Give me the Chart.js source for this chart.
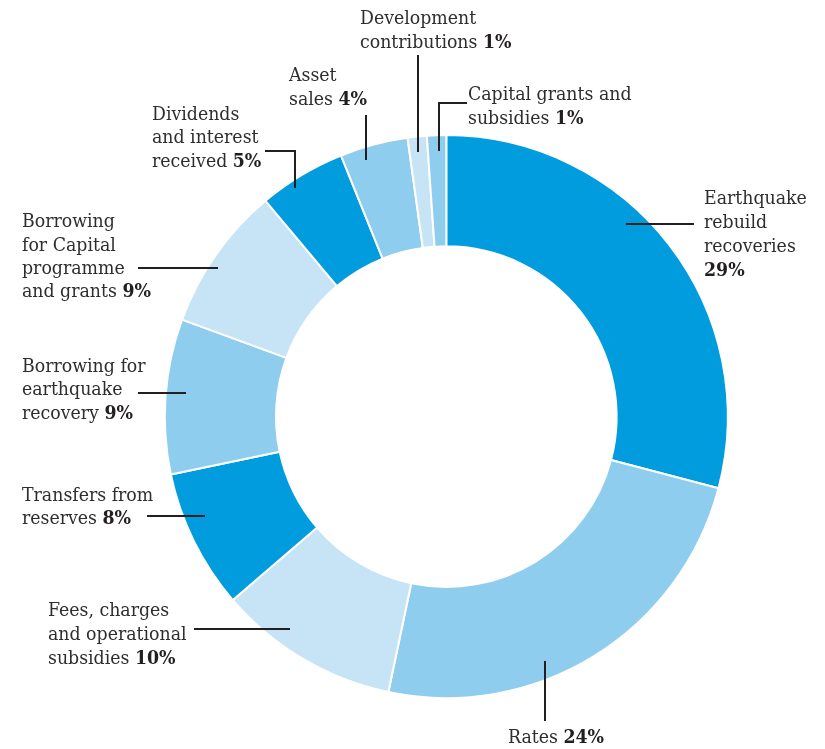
<!DOCTYPE html>
<html><head><meta charset="utf-8">
<script src="https://cdn.jsdelivr.net/npm/chart.js@4/dist/chart.umd.min.js"></script>
<style>html,body{margin:0;padding:0;background:#fff}#wrap{width:825px;height:749px;position:relative}</style>
</head><body><div id="wrap"><canvas id="c" width="825" height="749"></canvas></div>
<script>
// ---- data ----
const categories = [
  'Earthquake rebuild recoveries',
  'Rates',
  'Fees, charges and operational subsidies',
  'Transfers from reserves',
  'Borrowing for earthquake recovery',
  'Borrowing for Capital programme and grants',
  'Dividends and interest received',
  'Asset sales',
  'Development contributions',
  'Capital grants and subsidies'
];
const values = [29.1, 24.2, 10.4, 8.0, 8.9, 8.3, 5.0, 3.9, 1.1, 1.1];
const pctLabels = ['29%', '24%', '10%', '8%', '9%', '9%', '5%', '4%', '1%', '1%'];
const labelLines = [
  ['Earthquake', 'rebuild', 'recoveries', ''],
  ['Rates'],
  ['Fees, charges', 'and operational', 'subsidies'],
  ['Transfers from', 'reserves'],
  ['Borrowing for', 'earthquake', 'recovery'],
  ['Borrowing', 'for Capital', 'programme', 'and grants'],
  ['Dividends', 'and interest', 'received'],
  ['Asset', 'sales'],
  ['Development', 'contributions'],
  ['Capital grants and', 'subsidies']
];

// ---- styles / layout ----
const DARK = '#009CDE', MID = '#8FCDEF', LIGHT = '#C7E4F6';
const colors = [DARK, MID, LIGHT, DARK, MID, LIGHT, DARK, MID, LIGHT, MID];
const labelLayout = [
  {x: 704, y: 204.3, lh: 23.9, leader: [[626,224],[694,224]]},
  {x: 508, y: 742.7, lh: 24,   leader: [[545,661],[545,721]]},
  {x: 48,  y: 616,   lh: 24,   leader: [[194,629],[290,629]]},
  {x: 22,  y: 500.7, lh: 23.6, leader: [[147,516],[205,516]]},
  {x: 22,  y: 371.7, lh: 23.6, leader: [[138,393],[186,393]]},
  {x: 22,  y: 227.3, lh: 23.2, leader: [[138,268],[218,268]]},
  {x: 152, y: 119.7, lh: 23.5, leader: [[265,151],[295,151],[295,188]]},
  {x: 289, y: 81,    lh: 24,   leader: [[366,115],[366,160]]},
  {x: 360, y: 24,    lh: 24.3, leader: [[418,55],[418,152]]},
  {x: 468, y: 100,   lh: 24,   leader: [[467,103],[439,103],[439,151]]}
];
const FAMILY = "'DejaVu Serif Condensed', 'DejaVu Serif', serif";
const FONT_SIZE = 19.3;

const labelPlugin = {
  id: 'labels',
  afterDatasetsDraw(chart) {
    const ctx = chart.ctx;
    ctx.save();
    ctx.strokeStyle = '#231F20';
    ctx.lineWidth = 2;
    labelLayout.forEach(l => {
      ctx.beginPath();
      l.leader.forEach((p, i) => i ? ctx.lineTo(p[0], p[1]) : ctx.moveTo(p[0], p[1]));
      ctx.stroke();
    });
    ctx.textBaseline = 'alphabetic';
    ctx.textAlign = 'left';
    labelLines.forEach((lines, i) => {
      const l = labelLayout[i];
      lines.forEach((txt, j) => {
        const y = l.y + j * l.lh;
        const last = j === lines.length - 1;
        ctx.font = `normal ${FONT_SIZE}px ${FAMILY}`;
        ctx.fillStyle = '#2E2E2E';
        ctx.fillText(txt, l.x, y);
        if (last) {
          const w = txt ? ctx.measureText(txt + ' ').width : 0;
          ctx.font = `bold ${FONT_SIZE}px ${FAMILY}`;
          ctx.fillStyle = '#231F20';
          ctx.fillText(pctLabels[i], l.x + w, y);
        }
      });
    });
    ctx.restore();
  }
};

new Chart(document.getElementById('c'), {
  type: 'doughnut',
  data: {
    labels: categories,
    datasets: [{
      data: values,
      backgroundColor: colors,
      borderColor: '#ffffff',
      borderWidth: 2,
      hoverOffset: 0
    }]
  },
  options: {
    responsive: false,
    animation: false,
    cutout: '60.5%',
    layout: {padding: {left: 163.8, right: 96.2, top: 134.1, bottom: 49.9}},
    plugins: {legend: {display: false}, tooltip: {enabled: false}}
  },
  plugins: [labelPlugin]
});
</script>
</body></html>
